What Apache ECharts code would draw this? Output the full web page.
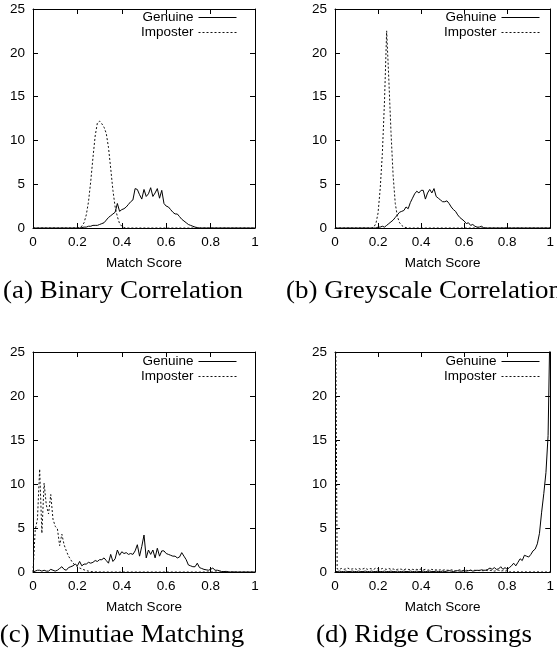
<!DOCTYPE html>
<html>
<head>
<meta charset="utf-8">
<script src="https://cdn.jsdelivr.net/npm/echarts@6/dist/echarts.min.js"></script>
<style>html,body{margin:0;padding:0;background:#fff}#c{width:557px;height:653px}</style>
</head>
<body>
<div id="c"></div>
<script>
// Match score bins
var scores = [0,0.01,0.02,0.03,0.04,0.05,0.06,0.07,0.08,0.09,
  0.10,0.11,0.12,0.13,0.14,0.15,0.16,0.17,0.18,0.19,
  0.20,0.21,0.22,0.23,0.24,0.25,0.26,0.27,0.28,0.29,
  0.30,0.31,0.32,0.33,0.34,0.35,0.36,0.37,0.38,0.39,
  0.40,0.41,0.42,0.43,0.44,0.45,0.46,0.47,0.48,0.49,
  0.50,0.51,0.52,0.53,0.54,0.55,0.56,0.57,0.58,0.59,
  0.60,0.61,0.62,0.63,0.64,0.65,0.66,0.67,0.68,0.69,
  0.70,0.71,0.72,0.73,0.74,0.75,0.76,0.77,0.78,0.79,
  0.80,0.81,0.82,0.83,0.84,0.85,0.86,0.87,0.88,0.89,
  0.90,0.91,0.92,0.93,0.94,0.95,0.96,0.97,0.98,0.99,1.00];

var xTicks = [0, 0.2, 0.4, 0.6, 0.8, 1];
var yTicks = [0, 5, 10, 15, 20, 25];
var captions = ['(a) Binary Correlation', '(b) Greyscale Correlation', '(c) Minutiae Matching', '(d) Ridge Crossings'];
var seriesNames = ['Genuine', 'Imposter'];
var axisName = 'Match Score';

// (a) Binary Correlation
var genuineA = [0,0,0,0,0,0,0,0,0,0,
  0,0,0,0,0,0,0,0,0,0,
  0,0,0.05,0.1,0.1,0.2,0.2,0.3,0.3,0.3,
  0.4,0.5,0.6,0.9,1.2,1.4,1.6,1.8,2.8,1.9,
  2.1,2.2,2.4,2.7,3.0,3.2,4.5,4.4,3.8,3.3,
  4.4,3.6,3.9,4.6,3.6,4.0,4.5,3.4,4.3,2.8,
  2.5,2.4,2.1,1.8,1.6,1.6,1.3,1.0,0.8,0.6,
  0.4,0.3,0.2,0.1,0.05,0,0,0,0,0,
  0,0,0,0,0,0,0,0,0,0,
  0,0,0,0,0,0,0,0,0,0,0];
var imposterA = [0,0,0,0,0,0,0,0,0,0,
  0,0,0,0,0,0,0,0,0,0,
  0,0.05,0.2,0.6,1.5,3.0,5.3,8.0,10.5,12.0,
  12.2,11.9,11.5,10.8,9.2,6.8,4.3,2.4,1.3,0.5,
  0.2,0.05,0,0,0,0,0,0,0,0,
  0,0,0,0,0,0,0,0,0,0,
  0,0,0,0,0,0,0,0,0,0,
  0,0,0,0,0,0,0,0,0,0,
  0,0,0,0,0,0,0,0,0,0,
  0,0,0,0,0,0,0,0,0,0,0];

// (b) Greyscale Correlation
var genuineB = [0,0,0,0,0,0,0,0,0,0,
  0,0,0,0,0,0,0,0,0,0,
  0.1,0.1,0.2,0.1,0.3,0.5,0.7,0.9,1.2,1.5,
  1.8,1.9,2.0,2.4,2.2,2.9,3.4,3.9,4.2,4.0,
  4.3,4.3,3.3,4.0,4.4,4.0,4.5,3.6,3.4,3.2,
  3.0,3.0,3.1,2.8,2.4,2.1,1.9,1.5,1.2,1.0,
  0.8,0.5,0.6,0.3,0.4,0.2,0.1,0.1,0.2,0.05,
  0,0,0,0,0,0,0,0,0,0,
  0,0,0,0,0,0,0,0,0,0,
  0,0,0,0,0,0,0,0,0,0,0];
var imposterB = [0,0,0,0,0,0,0,0,0,0,
  0,0,0,0,0,0,0,0,0.1,0.5,
  1.7,4.5,8.5,14.5,22.5,17.0,11.0,6.0,2.8,1.3,
  0.6,0.3,0.1,0.05,0,0,0,0,0,0,
  0,0,0,0,0,0,0,0,0,0,
  0,0,0,0,0,0,0,0,0,0,
  0,0,0,0,0,0,0,0,0,0,
  0,0,0,0,0,0,0,0,0,0,
  0,0,0,0,0,0,0,0,0,0,
  0,0,0,0,0,0,0,0,0,0,0];

// (c) Minutiae Matching
var genuineC = [0,0.1,0.2,0.2,0.1,0.2,0.1,0.1,0.3,0.2,
  0.1,0.2,0.4,0.6,0.3,0.2,0.5,0.6,0.7,0.9,
  0.7,1.2,0.7,0.9,0.9,1.1,1.0,1.1,1.3,1.2,
  1.4,1.4,1.6,1.3,1.0,2.0,1.2,1.5,2.5,1.9,
  2.3,2.1,2.2,2.0,2.1,2.0,2.4,3.1,1.8,2.9,
  4.2,1.6,2.5,2.0,2.5,1.6,2.7,1.8,2.4,2.4,
  2.1,2.0,1.9,1.8,1.8,1.6,1.7,2.2,1.8,1.4,
  0.8,0.7,0.6,0.6,1.0,0.5,0.4,0.3,0.25,0.2,
  0.3,0.45,0.2,0.2,0.15,0.05,0.05,0.07,0.02,0,
  0.02,0,0,0,0,0,0,0,0,0,0];
var imposterC = [0,4.8,6.0,11.7,4.4,10.1,7.6,6.6,8.8,6.0,
  5.2,4.9,3.0,4.3,3.1,2.4,1.8,1.4,1.0,0.8,
  0.6,0.45,0.35,0.25,0.15,0.1,0.05,0.03,0.02,0.02,
  0.01,0.01,0,0,0,0,0,0,0,0,
  0,0,0,0,0,0,0,0,0,0,
  0,0,0,0,0,0,0,0,0,0,
  0,0,0,0,0,0,0,0,0,0,
  0,0,0,0,0,0,0,0,0,0,
  0,0,0,0,0,0,0,0,0,0,
  0,0,0,0,0,0,0,0,0,0,0];

// (d) Ridge Crossings
var genuineD = [0.05,0.05,0.1,0.05,0.05,0.1,0.05,0.05,0.1,0.05,
  0.05,0.1,0.05,0.05,0.1,0.05,0.05,0.1,0.05,0.05,
  0.1,0.05,0.05,0.1,0.05,0.05,0.1,0.05,0.05,0.1,
  0.05,0.05,0.1,0.05,0.05,0.1,0.05,0.05,0.1,0.05,
  0.05,0.1,0.05,0.05,0.1,0.05,0.05,0.1,0.05,0.05,
  0.1,0.05,0.1,0.15,0.1,0.05,0.1,0.15,0.1,0.1,
  0.15,0.1,0.15,0.2,0.1,0.15,0.2,0.15,0.25,0.2,
  0.2,0.3,0.45,0.3,0.5,0.3,0.35,0.6,0.3,0.5,
  0.3,0.5,0.7,1.0,0.7,1.1,1.5,1.3,1.9,1.8,
  1.7,2.0,2.4,2.6,3.2,4.4,6.8,8.9,11.3,15.5,30];
var imposterD = [40,0.35,0.3,0.4,0.3,0.35,0.45,0.3,0.35,0.4,
  0.3,0.4,0.3,0.35,0.45,0.3,0.4,0.35,0.3,0.45,
  0.35,0.3,0.4,0.35,0.3,0.4,0.3,0.35,0.25,0.3,
  0.35,0.3,0.25,0.35,0.3,0.25,0.3,0.25,0.3,0.25,
  0.35,0.25,0.3,0.2,0.25,0.3,0.2,0.25,0.2,0.25,
  0.2,0.25,0.2,0.2,0.25,0.2,0.15,0.2,0.25,0.15,
  0.2,0.2,0.15,0.2,0.15,0.2,0.15,0.2,0.15,0.15,
  0.2,0.15,0.2,0.15,0.1,0.15,0.2,0.1,0.15,0.1,
  0.15,0.02,0.01,0.02,0.01,0.02,0.01,0.01,0.02,0.01,
  0.01,0.01,0,0.01,0.02,0.01,0,0.01,0,0,0];

var panels = [
  {g: genuineA, i: imposterA},
  {g: genuineB, i: imposterB},
  {g: genuineC, i: imposterC},
  {g: genuineD, i: imposterD}
];

// layout
var grids = [
  {left: 33, top: 9, width: 222, height: 219},
  {left: 335, top: 9, width: 221, height: 219},
  {left: 33, top: 352, width: 222, height: 220},
  {left: 335, top: 352, width: 221, height: 220}
];
var legendPos = [
  {right: 320, top: 10},
  {right: 17, top: 10},
  {right: 320, top: 354},
  {right: 17, top: 354}
];
var captionPos = [[123, 291], [424, 291], [122, 635], [424, 635]];

function pairs(ys) { return scores.map(function (x, k) { return [x, ys[k]]; }); }

var SANS = 'Liberation Sans, Arial, Helvetica, sans-serif';
var FS = 13.5;
var tickStyle = {show: true, inside: true, length: 5, lineStyle: {color: '#000', width: 1}};

var xAxes = [], yAxes = [], series = [], legends = [], graphics = [];
grids.forEach(function (gr, p) {
  xAxes.push({
    type: 'value', gridIndex: p, position: 'bottom', min: xTicks[0], max: xTicks[xTicks.length - 1], interval: 0.2,
    axisLine: {show: true, onZero: false, lineStyle: {color: '#000', width: 1}},
    axisTick: tickStyle, splitLine: {show: false},
    axisLabel: {color: '#000', fontFamily: SANS, fontSize: FS, margin: 7},
    name: axisName, nameLocation: 'middle', nameGap: 28,
    nameTextStyle: {color: '#000', fontFamily: SANS, fontSize: FS}
  });
  xAxes.push({
    type: 'value', gridIndex: p, position: 'top', min: 0, max: 1, interval: 0.2,
    axisLine: {show: true, onZero: false, lineStyle: {color: '#000', width: 1}},
    axisTick: tickStyle, splitLine: {show: false}, axisLabel: {show: false}
  });
  yAxes.push({
    type: 'value', gridIndex: p, position: 'left', min: yTicks[0], max: yTicks[yTicks.length - 1], interval: 5,
    axisLine: {show: true, onZero: false, lineStyle: {color: '#000', width: 1}},
    axisTick: tickStyle, splitLine: {show: false},
    axisLabel: {color: '#000', fontFamily: SANS, fontSize: FS, margin: 8}
  });
  yAxes.push({
    type: 'value', gridIndex: p, position: 'right', min: 0, max: 25, interval: 5,
    axisLine: {show: true, onZero: false, lineStyle: {color: '#000', width: 1}},
    axisTick: tickStyle, splitLine: {show: false}, axisLabel: {show: false}
  });
  series.push({
    name: seriesNames[0], type: 'line', xAxisIndex: 2 * p, yAxisIndex: 2 * p,
    data: pairs(panels[p].g), symbol: 'none', showSymbol: false, clip: true,
    lineStyle: {color: '#000', width: 1, type: 'solid'}, itemStyle: {color: '#000'}
  });
  series.push({
    name: seriesNames[1], type: 'line', xAxisIndex: 2 * p, yAxisIndex: 2 * p,
    data: pairs(panels[p].i), symbol: 'none', showSymbol: false, clip: true,
    lineStyle: {color: '#111', width: 1, type: [2, 2]}, itemStyle: {color: '#111'}
  });
  legends.push({
    data: seriesNames.slice(), orient: 'vertical', align: 'right',
    right: legendPos[p].right, top: legendPos[p].top, padding: 0,
    itemWidth: 38, itemHeight: 13, itemGap: 0, selectedMode: false,
    itemStyle: {opacity: 0},
    lineStyle: {width: 1},
    textStyle: {color: '#000', fontFamily: SANS, fontSize: FS, lineHeight: 15}
  });
  graphics.push({
    type: 'text', x: captionPos[p][0], y: captionPos[p][1], scaleX: 1.08,
    style: {text: captions[p], fill: '#000', font: '25px "Liberation Serif", "Times New Roman", serif',
      textAlign: 'center', textVerticalAlign: 'middle'}
  });
});

var chart = echarts.init(document.getElementById('c'), null, {renderer: 'canvas'});
chart.setOption({
  animation: false,
  backgroundColor: '#fff',
  grid: grids.map(function (g) { return Object.assign({containLabel: false}, g); }),
  xAxis: xAxes,
  yAxis: yAxes,
  legend: legends,
  series: series,
  graphic: graphics
});
</script>
</body>
</html>
